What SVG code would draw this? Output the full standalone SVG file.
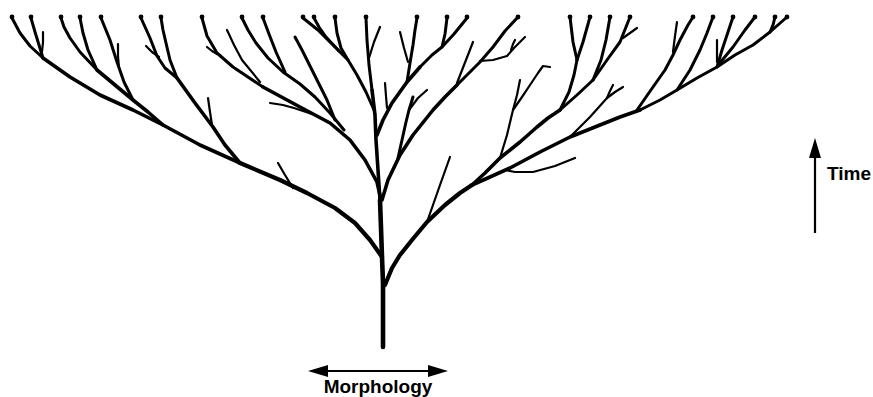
<svg xmlns="http://www.w3.org/2000/svg" width="873" height="397" viewBox="0 0 873 397">
<style>
.b{fill:none;stroke:#000;stroke-linecap:round;stroke-linejoin:round}
.w5{stroke-width:4.6}
.w4{stroke-width:4.2}
.w3{stroke-width:3.6}
.w2{stroke-width:3}
.w1{stroke-width:2.2}
.tip{fill:#000}
.lbl{font-family:"Liberation Sans",Arial,sans-serif;font-weight:bold;fill:#000}
.ax{stroke:#000;stroke-width:2.2;fill:none}
</style>
<defs>
<marker id="ah" viewBox="0 0 20 12" markerWidth="20" markerHeight="12" refX="0" refY="6" orient="auto-start-reverse" markerUnits="userSpaceOnUse">
<path d="M0,0 L20,6 L0,12 Z" fill="#000"/>
</marker>
</defs>
<rect width="873" height="397" fill="#fff"/>
<g id="tree">
<g id="trunk">
<polyline class="b w5" points="383,347 383,300 383,283 382,257 381,228 380,200"/>
</g>
<g id="left-main">
<polyline class="b w4" points="382,257 370,240 355,223 335,208 307,193 280,180 240,163"/>
<polyline class="b w3" points="240,163 200,145 163,125 133,110 100,95 70,77 43,58"/>
<polyline class="b w2" points="43,58 30,46 20,33 12,18"/>
<polyline class="b w2" points="43,58 39,45 35,32 31,18"/>
<polyline class="b w1" points="43,32 43,42 42,52"/>
<polyline class="b w1" points="278,163 285,175 293,188"/>
<polyline class="b w3" points="163,125 148,112 133,100 115,85 97,70"/>
<polyline class="b w2" points="97,70 80,52 70,38 64,27 61,18"/>
<polyline class="b w2" points="97,70 88,50 83,33 80,18"/>
<polyline class="b w2" points="133,100 124,82 117,62 110,40 101,18"/>
<polyline class="b w1" points="118,44 118,56 119,68"/>
<polyline class="b w3" points="240,163 225,145 213,127 195,103 177,78"/>
<polyline class="b w2" points="177,78 170,60 166,43 163,30 161,18"/>
<polyline class="b w2" points="177,78 165,68 157,56 150,38 141,18"/>
<polyline class="b w1" points="146,46 152,52 159,57"/>
<polyline class="b w1" points="208,98 210,112 212,125"/>
</g>
<g id="center-left">
<polyline class="b w3" points="381,200 377,182 365,160 350,140 330,123 300,107 263,87"/>
<polyline class="b w2" points="263,87 233,67 217,53 207,36 202,18"/>
<polyline class="b w1" points="207,47 212,51 217,54"/>
<polyline class="b w1" points="227,30 234,45 242,60 260,82"/>
<polyline class="b w2" points="344,130 330,113 315,97 300,84 283,72 268,58 256,43 248,30 242,18"/>
<polyline class="b w2" points="285,72 276,52 269,34 263,18"/>
<polyline class="b w2" points="335,120 327,100 318,82 310,66 302,50 295,37"/>
<polyline class="b w1" points="270,103 283,105 294,108 312,114"/>
</g>
<g id="center">
<polyline class="b w3" points="380,200 378,170 376,140 375,115 372,90"/>
<polyline class="b w2" points="372,90 369,65 367,40 366,18"/>
<polyline class="b w1" points="380,27 374,42 369,58"/>
<polyline class="b w2" points="374,110 366,92 357,75 348,60 341,48 337,33 335,18"/>
<polyline class="b w2" points="348,60 333,45 318,30 303,18"/>
<polyline class="b w2" points="339,51 326,37 319,27 314,18"/>
<polyline class="b w3" points="377,135 383,120 392,103 407,82 420,67"/>
<polyline class="b w2" points="420,67 432,55 442,47 454,34 467,18"/>
<polyline class="b w2" points="442,47 445,34 447,18"/>
<polyline class="b w2" points="407,82 410,63 413,45 415,30 417,18"/>
<polyline class="b w1" points="400,32 404,48 408,62"/>
<polyline class="b w1" points="385,83 386,96 387,108"/>
</g>
<g id="center-right">
<polyline class="b w3" points="382,200 388,180 400,155 413,135 433,110 445,97 457,85"/>
<polyline class="b w2" points="457,85 470,72 480,62 493,47 505,31 518,17"/>
<polyline class="b w1" points="473,42 466,60 457,83"/>
<polyline class="b w1" points="480,61 493,60 507,56 514,48 525,37"/>
<polyline class="b w1" points="511,50 513,44 515,40"/>
<polyline class="b w2" points="398,158 402,140 406,122 409,110 413,97"/>
<polyline class="b w1" points="409,110 418,98 427,90"/>
</g>
<g id="right-main">
<polyline class="b w4" points="385,285 392,268 400,255 412,240 427,222 445,205 460,193 472,185"/>
<polyline class="b w1" points="427,222 433,205 440,185 450,157"/>
<polyline class="b w3" points="472,185 485,173 500,158 520,142 537,127 548,118 560,110"/>
<polyline class="b w2" points="560,110 569,92 574,75 577,60"/>
<polyline class="b w2" points="577,60 573,42 570,17"/>
<polyline class="b w2" points="577,60 583,42 590,17"/>
<polyline class="b w2" points="560,110 577,95 593,80"/>
<polyline class="b w2" points="593,80 601,60 606,40 610,17"/>
<polyline class="b w2" points="593,80 607,60 620,42 630,17"/>
<polyline class="b w1" points="637,28 630,33 623,38"/>
<polyline class="b w1" points="500,158 507,135 513,110 517,95 520,80"/>
<polyline class="b w1" points="513,110 522,97 530,85 538,73 543,66 550,67"/>
<polyline class="b w3" points="472,185 490,177 510,168 540,152 570,137 600,125 620,117 640,110"/>
<polyline class="b w2" points="640,110 660,100 677,90 697,78 717,67 735,55 753,45 770,32 787,17"/>
<polyline class="b w1" points="505,170 515,172 533,172 555,166 575,158"/>
<polyline class="b w1" points="570,137 590,117 607,98 615,92 623,87"/>
<polyline class="b w1" points="607,98 610,91 613,85"/>
<polyline class="b w2" points="637,110 653,87 665,70 673,55 680,40 688,25 693,17"/>
<polyline class="b w1" points="677,22 675,36 673,52"/>
<polyline class="b w2" points="677,90 690,70 700,50 707,33 713,17"/>
<polyline class="b w2" points="717,67 722,50 727,35 733,17"/>
<polyline class="b w1" points="717,40 717,51 717,62"/>
<polyline class="b w2" points="719,64 733,47 745,30 755,17"/>
<polyline class="b w2" points="770,32 773,25 775,17"/>
</g>
<g id="tips" class="tip">
<circle cx="12" cy="17" r="2.4"/><circle cx="31" cy="17" r="2.4"/><circle cx="61" cy="17" r="2.4"/>
<circle cx="80" cy="17" r="2.4"/><circle cx="101" cy="17" r="2.4"/><circle cx="141" cy="17" r="2.4"/>
<circle cx="161" cy="17" r="2.4"/><circle cx="202" cy="17" r="2.4"/><circle cx="242" cy="17" r="2.4"/>
<circle cx="263" cy="17" r="2.4"/><circle cx="303" cy="17" r="2.4"/><circle cx="314" cy="17" r="2.4"/>
<circle cx="335" cy="17" r="2.4"/><circle cx="366" cy="17" r="2.4"/><circle cx="417" cy="17" r="2.4"/>
<circle cx="447" cy="17" r="2.4"/><circle cx="467" cy="17" r="2.4"/><circle cx="518" cy="17" r="2.4"/>
<circle cx="570" cy="17" r="2.4"/><circle cx="590" cy="17" r="2.4"/><circle cx="610" cy="17" r="2.4"/>
<circle cx="630" cy="17" r="2.4"/><circle cx="693" cy="17" r="2.4"/><circle cx="713" cy="17" r="2.4"/>
<circle cx="733" cy="17" r="2.4"/><circle cx="755" cy="17" r="2.4"/><circle cx="775" cy="17" r="2.4"/>
<circle cx="787" cy="17" r="2.4"/>
</g>
</g>
<g id="time-axis">
<line class="ax" x1="815" y1="233" x2="815" y2="158" marker-end="url(#ah)"/>
<text class="lbl" x="827" y="180" font-size="19">Time</text>
</g>
<g id="morphology-axis">
<line class="ax" x1="328" y1="371" x2="428" y2="371" marker-start="url(#ah)" marker-end="url(#ah)"/>
<text class="lbl" x="378" y="393" font-size="19" text-anchor="middle">Morphology</text>
</g>
</svg>
